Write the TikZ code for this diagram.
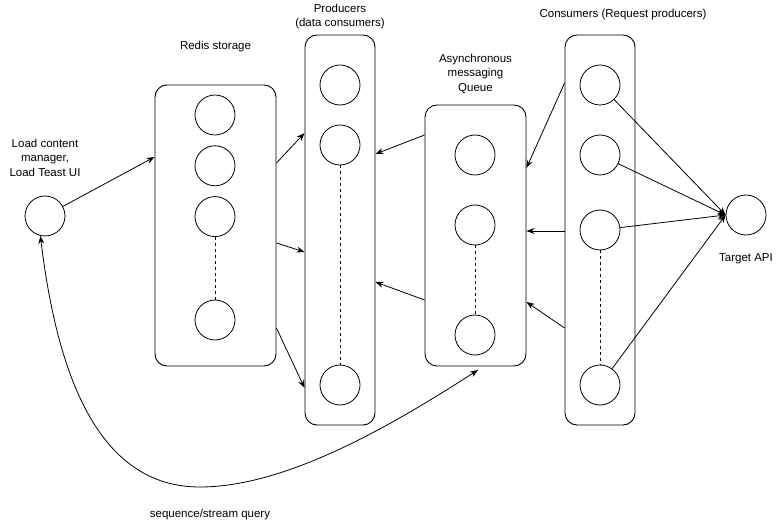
\documentclass[tikz,border=0pt]{standalone}
\usepackage{fontspec}
\setmainfont{Liberation Sans}
\usepackage{tikz}
\usetikzlibrary{arrows.meta, positioning}

\begin{document}
\begin{tikzpicture}[
    x=1pt, y=-1pt,
    group/.style={rectangle, draw, line width=0.9pt, rounded corners=12pt, inner sep=0pt},
    unit/.style={circle, draw, line width=0.8pt, minimum size=40pt, inner sep=0pt},
    caption/.style={align=center, font=\fontsize{11.5}{14.5}\selectfont, inner sep=1pt},
    arrow/.style={-{Stealth[length=8pt,width=6pt]}, line width=0.8pt},
    twoway/.style={{Stealth[length=8pt,width=6pt]}-{Stealth[length=8pt,width=6pt]}, line width=0.8pt},
    link/.style={dashed, line width=0.8pt}
]
\useasboundingbox (0,0) rectangle (781,526);

\node (redis) [group, minimum width=121pt, minimum height=281pt] at (215.5,225.5) {};
\node (prod) [group, minimum width=70pt, minimum height=390pt] at (340,230) {};
\node (queue) [group, minimum width=101pt, minimum height=261pt] at (475.5,235.5) {};
\node (cons) [group, minimum width=70pt, minimum height=390pt] at (600,230) {};

\node (lcm) [unit] at (45,216) {};
\node (r1) [unit] at (215,115) {};
\node (r2) [unit, below=10pt of r1] {};
\node (r3) [unit, below=10pt of r2] {};
\node (r4) [unit] at (215,320) {};
\node (p1) [unit] at (340,85) {};
\node (p2) [unit] at (340,145) {};
\node (p3) [unit] at (340,385) {};
\node (q1) [unit] at (475,155) {};
\node (q2) [unit] at (475,225) {};
\node (q3) [unit] at (475,335) {};
\node (c1) [unit] at (600,85) {};
\node (c2) [unit] at (600,155) {};
\node (c3) [unit] at (600,230) {};
\node (c4) [unit] at (600,385) {};
\node (tgt) [unit] at (746,215) {};

\node (lcmlabel) [caption, above=18pt of lcm] {Load content\\manager,\\Load Teast UI};
\node (redislabel) [caption, above=31pt of redis] {Redis storage};
\node (prodlabel) [caption, above=4pt of prod] {Producers\\(data consumers)};
\node (queuelabel) [caption, above=10pt of queue] {Asynchronous\\messaging\\Queue};
\node (conslabel) [caption] at (623,15) {Consumers (Request producers)};
\node (tgtlabel) [caption, below=17pt of tgt] {Target API};
\node (seqlabel) [caption] at (210,515) {sequence/stream query};
\coordinate (qin) at (478,370);

\draw [link] (r3) -- (r4);
\draw [link] (p2) -- (p3);
\draw [link] (q2) -- (q3);
\draw [link] (c3) -- (c4);

\draw [arrow] (lcm) -- (redis.west |- 0,157);
\draw [arrow] (redis.east |- 0,163) -- (prod.west |- 0,133);
\draw [arrow] (redis.east |- 0,243) -- (prod.west |- 0,252);
\draw [arrow] (redis.east |- 0,328) -- (prod.west |- 0,388);
\draw [arrow] (queue.west |- 0,135) -- (prod.east |- 0,154);
\draw [arrow] (queue.west |- 0,300) -- (prod.east |- 0,282);
\draw [arrow] (cons.west |- 0,83) -- (queue.east |- 0,168);
\draw [arrow] (cons.west |- 0,231) -- (queue.east |- 0,231);
\draw [arrow] (cons.west |- 0,328) -- (queue.east |- 0,302);
\foreach \c in {c1,c2,c3,c4}
    \draw [arrow] (\c) -- (tgt.west);
\draw [twoway] (lcm.-103) .. controls (60,400) and (110,487) .. (200,487) .. controls (290,487) and (400,420) .. (qin);

\end{tikzpicture}
\end{document}
